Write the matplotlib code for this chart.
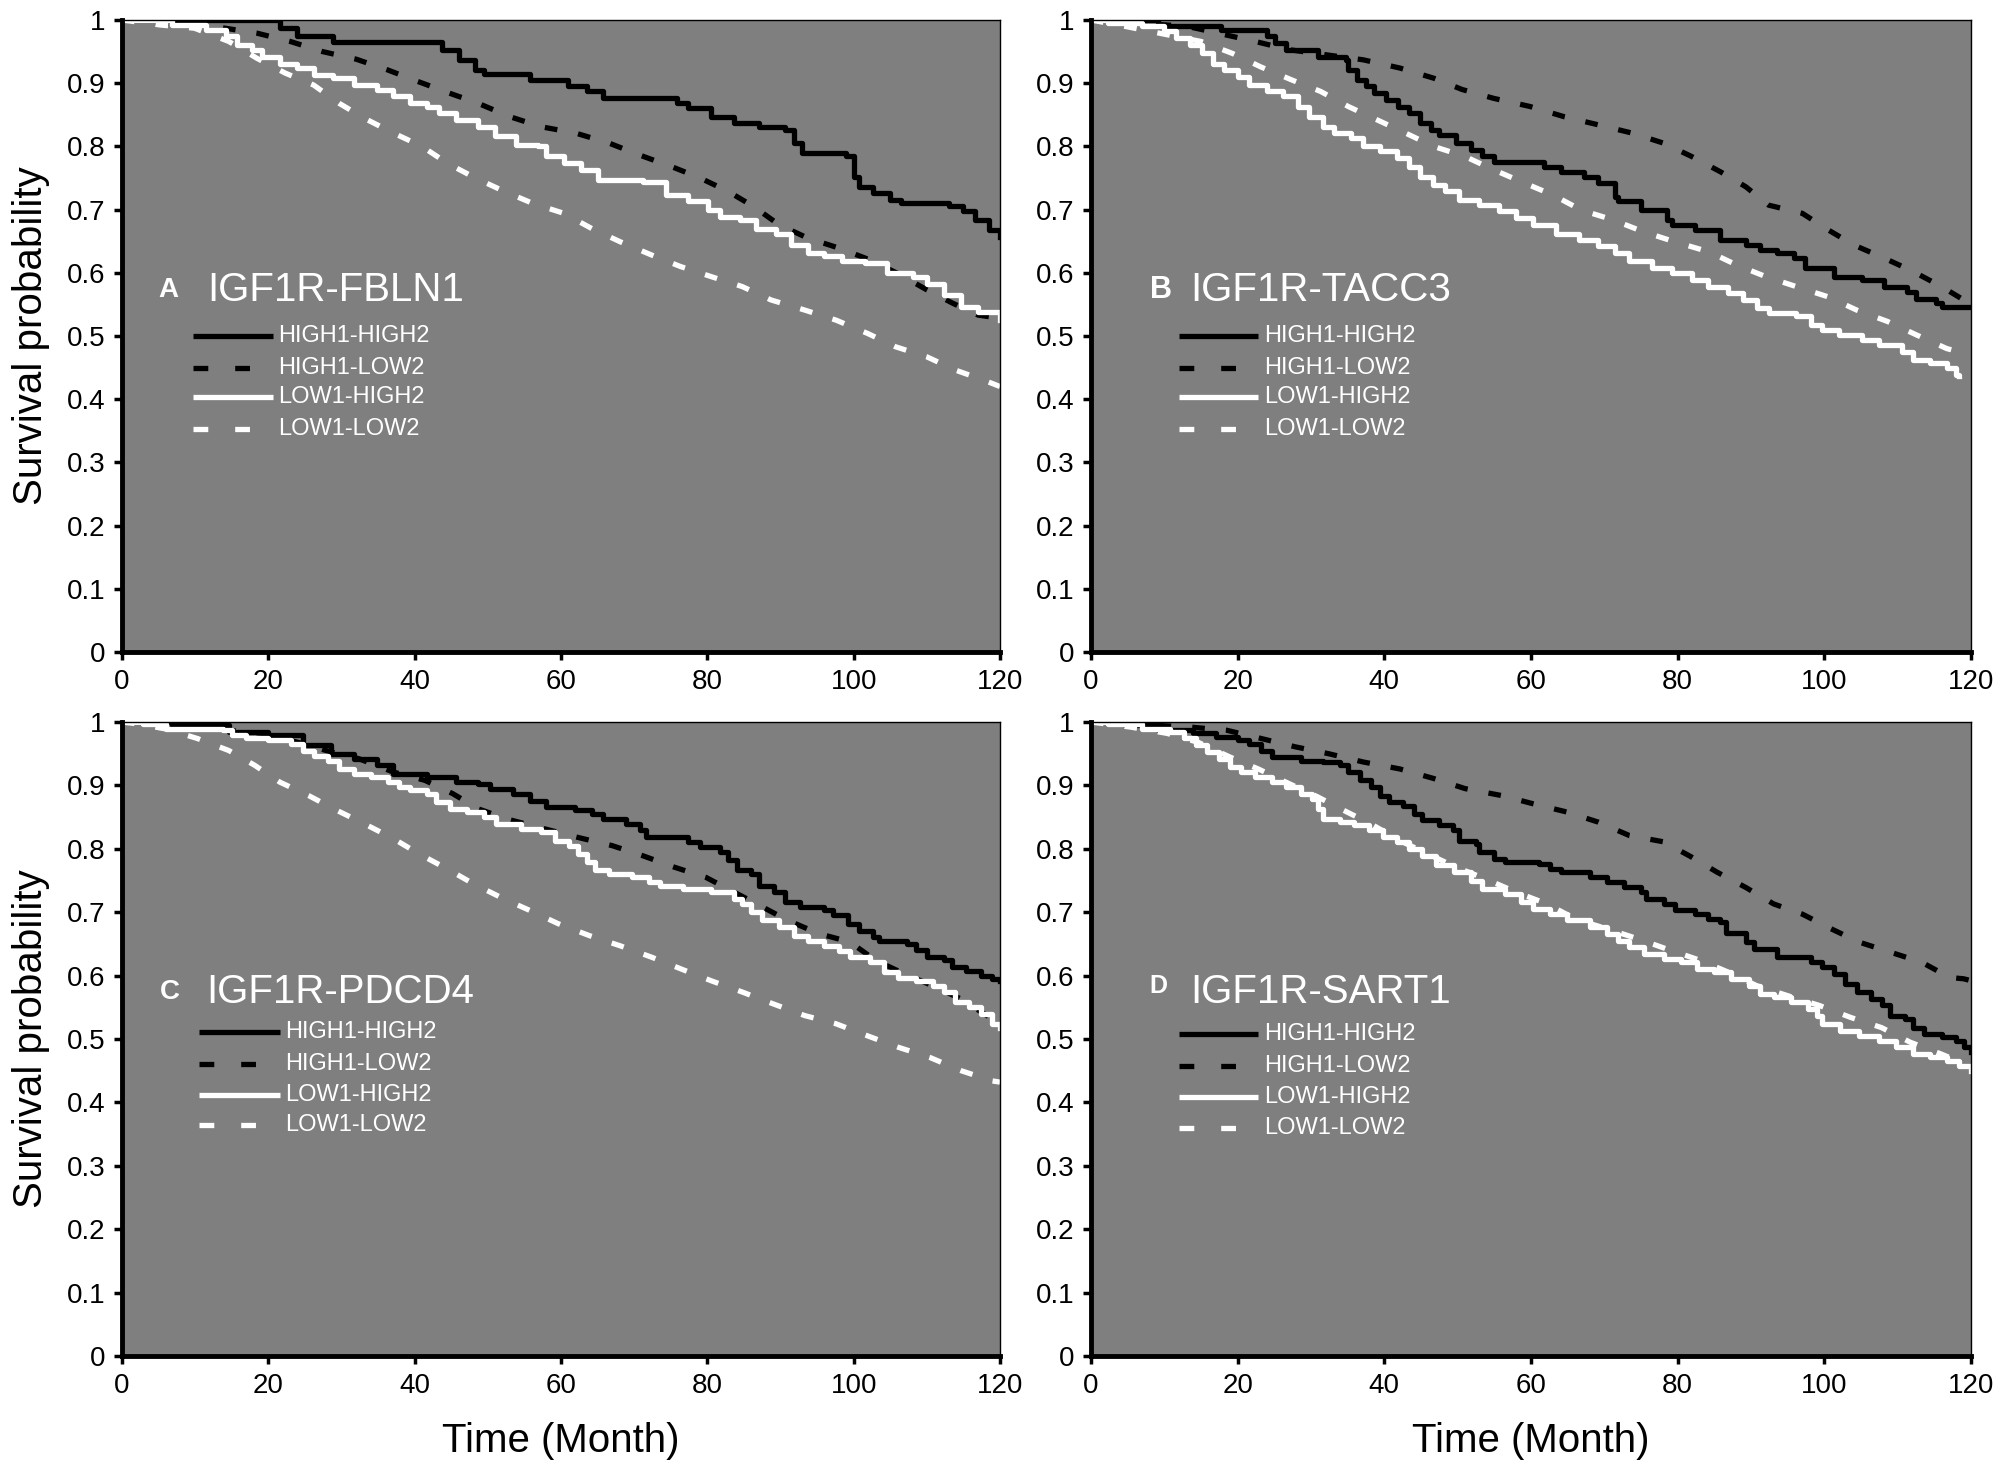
import numpy as np
import matplotlib
matplotlib.use("Agg")
import matplotlib.pyplot as plt

plt.rcParams['font.family'] = ['Liberation Sans', 'DejaVu Sans']

# legend labels
groups = ['HIGH1-HIGH2', 'HIGH1-LOW2', 'LOW1-HIGH2', 'LOW1-LOW2']
panel_letters = ['A', 'B', 'C', 'D']
panel_titles = ['IGF1R-FBLN1', 'IGF1R-TACC3', 'IGF1R-PDCD4', 'IGF1R-SART1']

x_ticks = [0, 20, 40, 60, 80, 100, 120]
y_ticks = [0, 0.1, 0.2, 0.3, 0.4, 0.5, 0.6, 0.7, 0.8, 0.9, 1]
y_tick_labels = ['0', '0.1', '0.2', '0.3', '0.4', '0.5', '0.6', '0.7', '0.8', '0.9', '1']

# ---- panel A (IGF1R-FBLN1) ----
A_HH_T = [0, 21.6, 23.9, 28.9, 43.7, 46, 48.3, 49.5, 55.7, 61, 63.5, 65.8, 75.9, 77.4, 80.5, 83.6, 87,
          90.6, 91.8, 93, 99, 100, 100.7, 102.6, 105, 106.5, 113, 115, 116.6, 118.5, 120]
A_HH_S = [1, 0.987, 0.974, 0.965, 0.953, 0.937, 0.921, 0.914, 0.905, 0.895, 0.887, 0.876, 0.868, 0.86, 0.847,
          0.837, 0.831, 0.826, 0.805, 0.789, 0.784, 0.752, 0.736, 0.726, 0.715, 0.71, 0.705, 0.697, 0.684,
          0.668, 0.657]
A_HL_T = [0, 13, 18.5, 23, 27.4, 32, 36.3, 40.6, 44.8, 48.7, 53, 57.3, 62, 66.6, 70.8, 75.1, 79, 82.8, 86.3,
          89.8, 93.7, 98, 102.3, 106, 110, 113.5, 117, 120]
A_HL_S = [1, 0.989, 0.979, 0.966, 0.95, 0.938, 0.921, 0.902, 0.884, 0.868, 0.847, 0.831, 0.821, 0.805, 0.786,
          0.768, 0.75, 0.729, 0.705, 0.676, 0.655, 0.639, 0.62, 0.599, 0.573, 0.552, 0.533, 0.528]
A_LH_T = [0, 6.8, 11.5, 14.2, 15.7, 17.7, 19.2, 21.6, 23.9, 26.2, 28.9, 31.7, 34.8, 37.1, 39.4, 41.7, 43.3,
          45.6, 48.7, 51, 53.8, 56.9, 58, 60.4, 62.7, 65, 71.2, 74.3, 77.4, 80.1, 81.7, 84.4, 86.7, 89.4,
          91.4, 93.7, 96, 98.4, 101.5, 104.6, 108.1, 110, 112.3, 114.7, 117, 120]
A_LH_S = [1, 0.992, 0.984, 0.974, 0.96, 0.953, 0.942, 0.931, 0.924, 0.913, 0.908, 0.897, 0.889, 0.879, 0.868,
          0.863, 0.853, 0.842, 0.831, 0.816, 0.802, 0.8, 0.784, 0.773, 0.763, 0.747, 0.744, 0.723, 0.713,
          0.699, 0.689, 0.684, 0.67, 0.662, 0.644, 0.631, 0.626, 0.618, 0.615, 0.599, 0.594, 0.583, 0.565,
          0.546, 0.538, 0.526]
A_LL_T = [0, 5.3, 9.9, 14.6, 18.5, 22.3, 26.2, 29.7, 33.2, 37.1, 41, 44.5, 48.3, 52.2, 56.1, 60.4, 64.2, 68.1,
          72.4, 76.3, 80.5, 84.8, 88.7, 93.3, 97.6, 101.9, 105.7, 110, 113.9, 117.8, 120]
A_LL_S = [1, 0.992, 0.987, 0.966, 0.939, 0.916, 0.897, 0.868, 0.844, 0.821, 0.8, 0.773, 0.75, 0.729, 0.71,
          0.694, 0.67, 0.649, 0.628, 0.61, 0.594, 0.578, 0.557, 0.541, 0.525, 0.504, 0.483, 0.467, 0.446,
          0.43, 0.42]

# ---- panel B (IGF1R-TACC3) ----
B_HH_T = [0, 9.2, 17.7, 24, 25.1, 26.6, 30.9, 34.8, 35.1, 36.3, 37.5, 38.6, 40.2, 41.8, 43.3, 44.8, 46.4,
          47.5, 49.8, 51.8, 53.3, 54.9, 61.8, 64.1, 67.2, 69.2, 71.5, 71.9, 75, 78.5, 79.2, 82.3, 85.8, 89.3,
          91.2, 93.5, 95.9, 97.4, 101.3, 105.1, 108.2, 111.3, 112.5, 115.2, 116, 120]
B_HH_S = [1, 0.99, 0.984, 0.974, 0.963, 0.953, 0.942, 0.937, 0.921, 0.905, 0.895, 0.884, 0.873, 0.863, 0.853,
          0.837, 0.826, 0.818, 0.805, 0.794, 0.784, 0.776, 0.768, 0.76, 0.752, 0.742, 0.72, 0.713, 0.699,
          0.684, 0.676, 0.668, 0.652, 0.644, 0.636, 0.631, 0.623, 0.607, 0.594, 0.589, 0.578, 0.57, 0.559,
          0.552, 0.546, 0.546]
B_HL_T = [0, 13.1, 22.4, 27, 32, 37.1, 42.1, 46.7, 50.6, 54.9, 59.9, 64.5, 69.2, 73.8, 78.1, 81.9, 85.8, 89.3,
          92.4, 97, 100.5, 104, 108.2, 112.1, 116, 119, 120]
B_HL_S = [1, 0.99, 0.966, 0.953, 0.945, 0.937, 0.924, 0.908, 0.89, 0.876, 0.863, 0.847, 0.834, 0.821, 0.805,
          0.784, 0.76, 0.736, 0.707, 0.694, 0.668, 0.644, 0.623, 0.602, 0.578, 0.557, 0.552]
B_LH_T = [0, 2.3, 6.9, 10, 11.6, 13.5, 15.1, 16.6, 18.1, 20.1, 21.6, 24, 26.2, 28.2, 29.7, 31.7, 33.2, 35.5,
          37.1, 39.4, 41.7, 43.3, 44.8, 46.7, 48.3, 50.2, 52.9, 55.6, 57.9, 60.3, 63.4, 66.5, 69.2, 71.5,
          73.4, 76.5, 79.2, 81.9, 84.2, 86.9, 88.9, 90.8, 92.4, 96.2, 98.2, 99.7, 102, 105.1, 107.5, 110.6,
          112.1, 114.4, 116.7, 117.9, 118.3]
B_LH_S = [1, 0.995, 0.99, 0.982, 0.971, 0.96, 0.947, 0.931, 0.921, 0.91, 0.897, 0.887, 0.879, 0.863, 0.847,
          0.831, 0.821, 0.813, 0.8, 0.792, 0.781, 0.768, 0.752, 0.739, 0.729, 0.715, 0.707, 0.697, 0.686,
          0.676, 0.662, 0.652, 0.642, 0.631, 0.618, 0.607, 0.599, 0.589, 0.578, 0.568, 0.557, 0.544, 0.536,
          0.531, 0.518, 0.51, 0.502, 0.494, 0.486, 0.475, 0.462, 0.457, 0.449, 0.438, 0.436]
B_LL_T = [0, 4.6, 15, 19.3, 23.1, 27.4, 31.3, 35.1, 39, 42.9, 46.7, 51, 54.9, 59.1, 63, 66.9, 71.1, 75.3, 79.6,
          84.3, 88.1, 92, 96.2, 100.5, 104.4, 108.6, 112.5, 116.7, 118.7]
B_LL_S = [1, 0.99, 0.966, 0.947, 0.926, 0.905, 0.887, 0.863, 0.842, 0.821, 0.8, 0.784, 0.763, 0.742, 0.723,
          0.699, 0.684, 0.665, 0.649, 0.633, 0.612, 0.594, 0.578, 0.562, 0.541, 0.523, 0.502, 0.48, 0.474]

# ---- panel C (IGF1R-PDCD4) ----
C_HH_T = [0, 6.8, 14.6, 20, 24.7, 28.5, 31.7, 34.8, 37.1, 41.7, 45.6, 48.7, 50.3, 53.4, 55.7, 58, 61.9, 64.2,
          65.8, 68.9, 70.8, 71.6, 75.9, 77.4, 79, 81.7, 82.8, 84, 86, 87.1, 89.1, 90.6, 92.6, 96, 97.2, 99.2,
          100.7, 102.6, 103.4, 107.3, 108.5, 110, 112.3, 113.5, 115.4, 117.4, 118.9, 120]
C_HH_S = [1, 0.995, 0.984, 0.979, 0.963, 0.95, 0.942, 0.932, 0.918, 0.913, 0.905, 0.903, 0.895, 0.887, 0.876,
          0.866, 0.861, 0.855, 0.847, 0.839, 0.829, 0.818, 0.818, 0.811, 0.803, 0.795, 0.782, 0.766, 0.761,
          0.742, 0.732, 0.716, 0.708, 0.703, 0.695, 0.682, 0.671, 0.661, 0.655, 0.65, 0.64, 0.629, 0.624,
          0.613, 0.608, 0.6, 0.595, 0.592]
C_HL_T = [0, 6.8, 19.2, 24.7, 28.5, 32.4, 37.1, 41.4, 45.2, 48.7, 52.6, 57.6, 62.3, 67, 71.2, 75.5, 79.8, 83.6,
          87.1, 91, 95.3, 99.5, 103, 106.9, 110.8, 114.7, 118.2, 120]
C_HL_S = [1, 0.995, 0.982, 0.966, 0.953, 0.942, 0.921, 0.908, 0.887, 0.863, 0.847, 0.832, 0.818, 0.805, 0.789,
          0.771, 0.755, 0.732, 0.711, 0.687, 0.666, 0.653, 0.624, 0.603, 0.584, 0.563, 0.537, 0.526]
C_LH_T = [0, 2.9, 6, 13.8, 15, 16.9, 20, 23.1, 24.7, 26.2, 28.2, 29.7, 31.7, 34, 36.3, 37.9, 39.4, 41.7, 42.9,
          44.8, 47.2, 49.5, 51.1, 54.5, 57.3, 59.2, 61.1, 62.3, 63.5, 64.6, 66.6, 69.7, 72, 73.5, 76.7, 80.5,
          83.6, 84.8, 86, 87.5, 89.8, 91.8, 93.7, 96, 98, 99.5, 102.2, 104.2, 106.1, 108.5, 110.8, 112.3,
          113.9, 115.8, 117.4, 118.9, 120]
C_LH_S = [1, 0.997, 0.989, 0.987, 0.979, 0.974, 0.971, 0.966, 0.955, 0.947, 0.939, 0.926, 0.918, 0.913, 0.905,
          0.897, 0.892, 0.887, 0.874, 0.863, 0.858, 0.85, 0.839, 0.832, 0.826, 0.813, 0.805, 0.792, 0.779,
          0.766, 0.761, 0.755, 0.747, 0.742, 0.737, 0.732, 0.721, 0.713, 0.7, 0.687, 0.676, 0.663, 0.655,
          0.647, 0.639, 0.629, 0.621, 0.605, 0.597, 0.592, 0.584, 0.574, 0.558, 0.55, 0.539, 0.524, 0.518]
C_LL_T = [0, 2.2, 6, 10.3, 14.6, 18.1, 21.6, 25.5, 29.3, 33.2, 37.1, 40.6, 44.5, 48, 52.2, 55.7, 59.6, 63.9,
          68.1, 72.4, 76.3, 80.5, 84.8, 89.1, 93.3, 97.6, 101.9, 106.1, 110.4, 114.7, 118.9, 120]
C_LL_S = [1, 0.997, 0.989, 0.974, 0.955, 0.932, 0.905, 0.884, 0.861, 0.839, 0.816, 0.792, 0.768, 0.745, 0.721,
          0.703, 0.682, 0.663, 0.647, 0.629, 0.611, 0.592, 0.574, 0.555, 0.537, 0.524, 0.505, 0.487, 0.471,
          0.45, 0.434, 0.432]

# ---- panel D (IGF1R-SART1) ----
D_HH_T = [0, 4.6, 9.2, 13.9, 17, 20.1, 21.6, 23.2, 24.7, 28.6, 31.7, 34, 35.1, 36.7, 38.2, 39.4, 40.6, 42.5,
          44, 45.2, 47.5, 49.4, 50.2, 52.5, 52.9, 54.9, 56.4, 61.1, 62.6, 64.1, 68, 70.3, 72.7, 75, 75.7, 78.1,
          79.6, 82.3, 84.2, 85.8, 86.6, 89.3, 90.4, 93.5, 98.2, 99.7, 101.3, 102.8, 104.4, 106.3, 107.9, 109,
          111, 112.1, 113.6, 116, 117.9, 119.1, 120]
D_HH_S = [1, 0.995, 0.987, 0.982, 0.976, 0.971, 0.966, 0.955, 0.945, 0.939, 0.937, 0.932, 0.921, 0.908, 0.897,
          0.884, 0.874, 0.868, 0.855, 0.845, 0.837, 0.829, 0.813, 0.808, 0.795, 0.784, 0.779, 0.776, 0.768,
          0.763, 0.755, 0.747, 0.739, 0.732, 0.721, 0.713, 0.703, 0.697, 0.689, 0.684, 0.668, 0.653, 0.642,
          0.629, 0.621, 0.613, 0.603, 0.587, 0.574, 0.563, 0.553, 0.537, 0.532, 0.518, 0.508, 0.503, 0.497,
          0.487, 0.479]
D_HL_T = [0, 13.5, 18.5, 23.2, 27.8, 32.4, 37.1, 42.1, 46.7, 51, 56, 60.3, 64.9, 69.2, 73.4, 78.1, 81.9, 85.4,
          89.3, 93.1, 97, 100.9, 104.7, 109, 113.3, 117.1, 119, 120]
D_HL_S = [1, 0.992, 0.987, 0.974, 0.961, 0.95, 0.937, 0.926, 0.911, 0.895, 0.884, 0.871, 0.858, 0.842, 0.821,
          0.811, 0.787, 0.763, 0.739, 0.713, 0.697, 0.674, 0.653, 0.637, 0.621, 0.597, 0.595, 0.592]
D_LH_T = [0, 2.3, 6.9, 10.8, 12.7, 14.3, 15.8, 17.4, 18.9, 20.5, 22.4, 24.7, 26.6, 28.6, 30.1, 30.9, 31.7, 34,
          35.9, 37.9, 39.8, 41.7, 43.3, 45.2, 47.1, 49.5, 51.8, 53.3, 56.4, 58.7, 60.3, 62.6, 64.9, 68, 70.3,
          71.9, 73.4, 75.4, 78.1, 80.4, 82.7, 85, 87.3, 89.7, 91.2, 93.1, 95.5, 97.8, 99, 99.7, 102.1, 104.7,
          107.5, 109.8, 112.1, 114.4, 116.7, 118.3, 120]
D_LH_S = [1, 0.997, 0.989, 0.984, 0.974, 0.963, 0.953, 0.942, 0.929, 0.921, 0.913, 0.905, 0.897, 0.887, 0.879,
          0.863, 0.847, 0.842, 0.837, 0.829, 0.818, 0.811, 0.8, 0.789, 0.774, 0.763, 0.75, 0.737, 0.729, 0.716,
          0.705, 0.697, 0.687, 0.676, 0.666, 0.655, 0.645, 0.634, 0.626, 0.621, 0.61, 0.605, 0.595, 0.584,
          0.571, 0.566, 0.558, 0.547, 0.537, 0.524, 0.513, 0.505, 0.497, 0.487, 0.476, 0.471, 0.466, 0.458,
          0.45]
D_LL_T = [0, 5.4, 10.4, 14.6, 18.9, 22.8, 26.6, 30.9, 34.4, 38.2, 42.1, 45.9, 49.8, 53.7, 57.9, 62.2, 66.1,
          70.3, 74.6, 78.5, 83.1, 87, 90.8, 95.1, 99.3, 103.6, 107.8, 111.7, 116, 118.7]
D_LL_S = [1, 0.992, 0.982, 0.968, 0.945, 0.926, 0.905, 0.882, 0.861, 0.839, 0.813, 0.792, 0.771, 0.753, 0.732,
          0.713, 0.689, 0.674, 0.658, 0.642, 0.624, 0.605, 0.584, 0.568, 0.553, 0.534, 0.518, 0.495, 0.476,
          0.463]

curves = [
    [(A_HH_T, A_HH_S), (A_HL_T, A_HL_S), (A_LH_T, A_LH_S), (A_LL_T, A_LL_S)],
    [(B_HH_T, B_HH_S), (B_HL_T, B_HL_S), (B_LH_T, B_LH_S), (B_LL_T, B_LL_S)],
    [(C_HH_T, C_HH_S), (C_HL_T, C_HL_S), (C_LH_T, C_LH_S), (C_LL_T, C_LL_S)],
    [(D_HH_T, D_HH_S), (D_HL_T, D_HL_S), (D_LH_T, D_LH_S), (D_LL_T, D_LL_S)],
]

BG = '#7f7f7f'
LW = 3.8
DASH = (0, (2.4, 4.0))       # on the curves
DASH_LEG = (0, (2.8, 5.1))   # in the key
styles = [('black', '-'), ('black', DASH), ('white', '-'), ('white', DASH)]
leg_styles = [('black', '-'), ('black', DASH_LEG), ('white', '-'), ('white', DASH_LEG)]
# solid curves drawn as steps, dashed ones joined point to point (their steps are tiny)
drawstyles = ['steps-post', 'default', 'steps-post', 'default']

# axes rectangles (figure fractions)
rects = [[0.061, 0.5562, 0.439, 0.4302],
         [0.5455, 0.5562, 0.44, 0.4302],
         [0.061, 0.0769, 0.439, 0.4316],
         [0.5455, 0.0769, 0.44, 0.4316]]

# annotation placement in data coords
layout = [
    dict(lx=4.9, tx=11.7, ty=0.572, lx0=9.7, lx1=20.6, txt=21.4, rows=[0.5, 0.45, 0.403, 0.353], lva='center', lsize=20),
    dict(lx=8.0, tx=13.5, ty=0.572, lx0=12.0, lx1=22.8, txt=23.6, rows=[0.5, 0.45, 0.403, 0.353], lva='center', lsize=22),
    dict(lx=5.2, tx=11.5, ty=0.574, lx0=10.5, lx1=21.6, txt=22.3, rows=[0.511, 0.461, 0.412, 0.364], lva='center', lsize=20),
    dict(lx=8.0, tx=13.5, ty=0.574, lx0=12.0, lx1=22.8, txt=23.6, rows=[0.508, 0.457, 0.408, 0.36], lva='top', lsize=18),
]

fig = plt.figure(figsize=(20, 14.69), dpi=100)

for i in range(4):
    ax = fig.add_axes(rects[i])
    ax.set_facecolor(BG)
    for j in range(4):
        t, s = curves[i][j]
        col, ls = styles[j]
        ax.plot(t, s, drawstyle=drawstyles[j], color=col, linestyle=ls, linewidth=LW)

    ax.set_xlim(0, 120)
    ax.set_ylim(0, 1)
    ax.set_xticks(x_ticks)
    ax.set_yticks(y_ticks)
    ax.set_yticklabels(y_tick_labels)
    ax.tick_params(direction='out', length=6, width=2.5, labelsize=20, pad=6, colors='black')
    for side in ['left', 'bottom']:
        ax.spines[side].set_linewidth(3.5)
    for side in ['top', 'right']:
        ax.spines[side].set_linewidth(1.0)

    L = layout[i]
    ly = L['ty'] + 0.028 if L['lva'] == 'top' else L['ty']
    ax.text(L['lx'], ly, panel_letters[i], color='white', fontsize=L['lsize'], fontweight='bold',
            va=L['lva'], ha='left')
    ax.text(L['tx'], L['ty'], panel_titles[i], color='white', fontsize=29, va='center', ha='left')
    for j in range(4):
        col, ls = leg_styles[j]
        y = L['rows'][j]
        ax.plot([L['lx0'], L['lx1']], [y, y], color=col, linestyle=ls, linewidth=LW,
                solid_capstyle='butt', dash_capstyle='butt')
        ax.text(L['txt'], y, groups[j], color='white', fontsize=17, va='center', ha='left')

    if i in (0, 2):
        ax.set_ylabel('Survival probability', fontsize=29, labelpad=12)
    if i in (2, 3):
        ax.set_xlabel('Time (Month)', fontsize=29, labelpad=17)

fig.savefig('out.png', dpi=100, facecolor='white')
